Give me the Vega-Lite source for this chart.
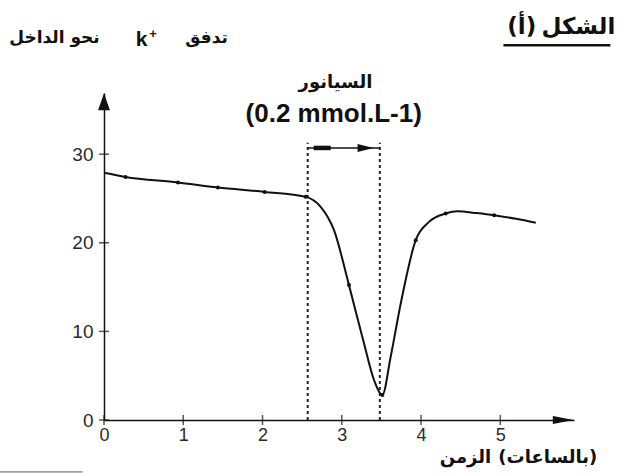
{
  "$schema": "https://vega.github.io/schema/vega-lite/v6.json",
  "width": 470,
  "height": 327,
  "autosize": "none",
  "padding": {"left": 104, "top": 93, "right": 49, "bottom": 54},
  "background": "white",
  "config": {"view": {"stroke": null}, "axis": {"grid": false}},
  "datasets": {
    "curve": [
      {"t": 0, "v": 27.9}, {"t": 0.271, "v": 27.43}, {"t": 0.932, "v": 26.8}, {"t": 1.437, "v": 26.23},
      {"t": 2.027, "v": 25.74}, {"t": 2.544, "v": 25.18}, {"t": 2.734, "v": 24.05}, {"t": 2.902, "v": 21.42},
      {"t": 3.091, "v": 15.22}, {"t": 3.28, "v": 8.65}, {"t": 3.407, "v": 4.51}, {"t": 3.512, "v": 2.82},
      {"t": 3.617, "v": 7.14}, {"t": 3.744, "v": 13.15}, {"t": 3.933, "v": 20.29}, {"t": 4.101, "v": 22.36},
      {"t": 4.312, "v": 23.3}, {"t": 4.459, "v": 23.56}, {"t": 4.7, "v": 23.35}, {"t": 4.922, "v": 23.11},
      {"t": 5.2, "v": 22.7}, {"t": 5.448, "v": 22.25}
    ],
    "markers": [
      {"t": 0.271, "v": 27.43}, {"t": 0.932, "v": 26.8}, {"t": 1.437, "v": 26.23}, {"t": 2.027, "v": 25.74},
      {"t": 2.544, "v": 25.18}, {"t": 3.091, "v": 15.22}, {"t": 3.512, "v": 2.82}, {"t": 3.933, "v": 20.29},
      {"t": 4.312, "v": 23.3}, {"t": 4.922, "v": 23.11}
    ],
    "xticks": [{"t": 0, "v": 0}, {"t": 1, "v": 0}, {"t": 2, "v": 0}, {"t": 3, "v": 0}, {"t": 4, "v": 0}, {"t": 5, "v": 0}],
    "yticks": [{"t": 0, "v": 0}, {"t": 0, "v": 10}, {"t": 0, "v": 20}, {"t": 0, "v": 30}],
    "xarrow": [{"t": 5.795, "v": 0}],
    "yarrow": [{"t": 0, "v": 35.9}],
    "cyanide": [{"t": 2.57, "v": 0, "v2": 31.3}, {"t": 3.48, "v": 0, "v2": 31.3}],
    "span": [{"t": 2.57, "t2": 3.48, "v": 30.7}],
    "spanTail": [{"t": 2.645, "t2": 2.86, "v": 30.7}],
    "spanHead": [{"t": 3.3, "v": 30.7}],
    "titleArabic": [{"t": -0.625, "v": 43.07, "label": "نحو الداخل"}, {"t": 1.294, "v": 43.07, "label": "تدفق"}],
    "titleK": [{"t": 0.473, "v": 42.84, "label": "k"}],
    "titlePlus": [{"t": 0.619, "v": 43.52, "label": "+"}],
    "figure": [{"t": 5.27, "v": 44.35, "label": "(أ)"}, {"t": 5.985, "v": 44.35, "label": "الشكل"}],
    "figureLine": [{"t": 5.04, "t2": 6.39, "v": 42.28}],
    "drugName": [{"t": 2.92, "v": 38.0, "label": "السيانور"}],
    "dose": [{"t": 2.898, "v": 34.5, "label": "(0.2 mmol.L-1)"}],
    "xTitle": [{"t": 4.56, "v": -4.25, "label": "الزمن"}, {"t": 5.6, "v": -4.25, "label": "(بالساعات)"}],
    "footLine": [{"t": -1.31, "t2": -0.27, "v": -5.86}]
  },
  "encoding": {
    "x": {
      "field": "t", "type": "quantitative",
      "scale": {"domain": [0, 5.93], "nice": false, "zero": false},
      "axis": {"values": [0, 1, 2, 3, 4, 5], "ticks": false, "labelPadding": 6, "domainColor": "#111", "domainWidth": 1.5,
        "labelFont": "Liberation Sans", "labelFontSize": 18, "labelColor": "#2a2a2a", "labelFlush": false, "labelOverlap": false,
        "title": null, "grid": false}
    },
    "y": {
      "field": "v", "type": "quantitative",
      "scale": {"domain": [0, 36.9], "nice": false, "zero": false},
      "axis": {"values": [0, 10, 20, 30], "ticks": false, "labelPadding": 11, "domainColor": "#111", "domainWidth": 1.5,
        "labelFont": "Liberation Sans", "labelFontSize": 19, "labelColor": "#2a2a2a", "labelFlush": false, "labelOverlap": false,
        "title": null, "grid": false}
    }
  },
  "layer": [
    {"data": {"name": "xticks"}, "mark": {"type": "tick", "orient": "vertical", "size": 10, "thickness": 1.5, "color": "#111"}},
    {"data": {"name": "yticks"}, "mark": {"type": "tick", "orient": "horizontal", "size": 10, "thickness": 1.5, "color": "#111"}},
    {"data": {"name": "xarrow"}, "mark": {"type": "point", "shape": "M1,0L-1,-0.38L-1,0.38Z", "size": 441, "filled": true, "color": "#111", "opacity": 1}},
    {"data": {"name": "yarrow"}, "mark": {"type": "point", "shape": "M0,-1L0.7,1L-0.7,1Z", "size": 289, "filled": true, "color": "#111", "opacity": 1}},
    {"data": {"name": "cyanide"}, "mark": {"type": "rule", "strokeDash": [3, 3], "strokeWidth": 2, "color": "#222"}, "encoding": {"y2": {"field": "v2"}}},
    {"data": {"name": "span"}, "mark": {"type": "rule", "strokeWidth": 1.5, "color": "#111"}, "encoding": {"x2": {"field": "t2"}}},
    {"data": {"name": "spanTail"}, "mark": {"type": "rule", "strokeWidth": 4.5, "color": "#111"}, "encoding": {"x2": {"field": "t2"}}},
    {"data": {"name": "spanHead"}, "mark": {"type": "point", "shape": "M1,0L-1,-0.5L-1,0.5Z", "size": 256, "filled": true, "color": "#111", "opacity": 1}},
    {"data": {"name": "curve"}, "mark": {"type": "line", "interpolate": "monotone", "strokeWidth": 2, "color": "#111"}},
    {"data": {"name": "markers"}, "mark": {"type": "point", "shape": "circle", "size": 16, "filled": true, "color": "#111", "opacity": 1}},
    {"data": {"name": "titleArabic"}, "mark": {"type": "text", "font": "DejaVu Sans", "fontWeight": "bold", "fontSize": 17, "align": "center", "baseline": "middle", "color": "#111"}, "encoding": {"text": {"field": "label"}}},
    {"data": {"name": "titleK"}, "mark": {"type": "text", "font": "Liberation Sans", "fontWeight": "bold", "fontSize": 21, "align": "center", "baseline": "middle", "color": "#111"}, "encoding": {"text": {"field": "label"}}},
    {"data": {"name": "titlePlus"}, "mark": {"type": "text", "font": "Liberation Sans", "fontWeight": "bold", "fontSize": 13, "align": "center", "baseline": "middle", "color": "#111"}, "encoding": {"text": {"field": "label"}}},
    {"data": {"name": "figure"}, "mark": {"type": "text", "font": "DejaVu Sans", "fontWeight": "bold", "fontSize": 23, "align": "center", "baseline": "middle", "color": "#111"}, "encoding": {"text": {"field": "label"}}},
    {"data": {"name": "figureLine"}, "mark": {"type": "rule", "strokeWidth": 2.5, "color": "#111"}, "encoding": {"x2": {"field": "t2"}}},
    {"data": {"name": "drugName"}, "mark": {"type": "text", "font": "DejaVu Sans", "fontWeight": "bold", "fontSize": 18, "align": "center", "baseline": "middle", "color": "#111"}, "encoding": {"text": {"field": "label"}}},
    {"data": {"name": "dose"}, "mark": {"type": "text", "font": "Liberation Sans", "fontWeight": "bold", "fontSize": 26, "align": "center", "baseline": "middle", "color": "#111"}, "encoding": {"text": {"field": "label"}}},
    {"data": {"name": "xTitle"}, "mark": {"type": "text", "font": "DejaVu Sans", "fontWeight": "bold", "fontSize": 18, "align": "center", "baseline": "middle", "color": "#111"}, "encoding": {"text": {"field": "label"}}},
    {"data": {"name": "footLine"}, "mark": {"type": "rule", "strokeWidth": 1, "color": "#555"}, "encoding": {"x2": {"field": "t2"}}}
  ]
}
